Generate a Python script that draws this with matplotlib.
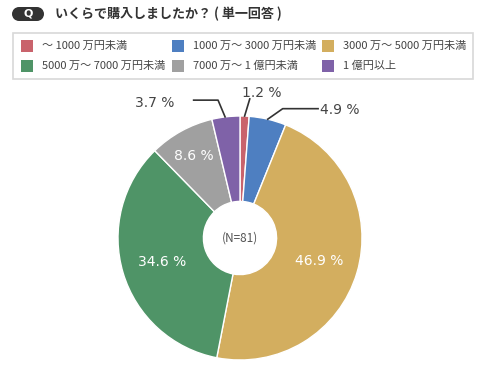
import matplotlib
matplotlib.use("Agg")
import matplotlib.pyplot as plt
from matplotlib.patches import Rectangle, Ellipse
import numpy as np

plt.rcParams['font.family'] = ['Noto Sans CJK JP', 'DejaVu Sans']

categories = ["～ 1000 万円未満", "1000 万～ 3000 万円未満", "3000 万～ 5000 万円未満",
              "5000 万～ 7000 万円未満", "7000 万～ 1 億円未満", "1 億円以上"]
shares = [1.2, 4.9, 46.9, 34.6, 8.6, 3.7]
colors = ["#c9636c", "#4e7fc1", "#d3ae5f", "#4f9467", "#a0a0a0", "#7f62a8"]
title = "いくらで購入しましたか？ ( 単一回答 )"
n_text = "(N=81)"

W, H = 480, 366
fig = plt.figure(figsize=(W / 100, H / 100), dpi=100)

def fx(px):
    return px / W

def fy(py):
    return 1 - py / H

# header pill (capsule: two ends + middle)
for ex in (19, 37):
    fig.patches.append(Ellipse((fx(ex), fy(14)), 14 / W, 14 / H, transform=fig.transFigure,
                               facecolor="#333333", edgecolor="none"))
fig.patches.append(Rectangle((fx(19), fy(21)), fx(18), 14 / H, transform=fig.transFigure,
                             facecolor="#333333", edgecolor="none"))
fig.text(fx(28), fy(14), "Q", color="white", fontsize=8, fontweight="bold", ha="center", va="center",
         family="DejaVu Sans")
fig.text(fx(55), fy(14), title, color="#333333", fontsize=9.4, fontweight="bold", ha="left", va="center")

# legend box
fig.patches.append(Rectangle((fx(13), fy(79)), fx(460), 46 / H, transform=fig.transFigure,
                             facecolor="white", edgecolor="#d8d8d8", linewidth=1.2))
col_x = [21, 172, 322]
row_y = [46, 66]
for i, (lab, c) in enumerate(zip(categories, colors)):
    x0 = col_x[i % 3]
    y0 = row_y[i // 3]
    fig.patches.append(Rectangle((fx(x0), fy(y0 + 6)), fx(12), 12 / H, transform=fig.transFigure,
                                 facecolor=c, edgecolor="none"))
    fig.text(fx(x0 + 21), fy(y0), lab, fontsize=8, color="#444444", ha="left", va="center")

# donut
cx, cy, r = 240, 238, 122
ax = fig.add_axes([fx(cx - r), fy(cy + r), 2 * r / W, 2 * r / H])
wedges, _ = ax.pie(shares, colors=colors, startangle=90, counterclock=False, radius=1,
                   wedgeprops=dict(width=0.7, edgecolor="white", linewidth=1))
ax.set_xlim(-1, 1)
ax.set_ylim(-1, 1)
ax.set_aspect("equal")
ax.axis("off")
for w in wedges:
    w.set_clip_on(False)

ax.text(0, 0, n_text, fontsize=8.5, color="#555555", ha="center", va="center")

cum = np.cumsum([0] + shares[:-1])
mids = 90 - (cum + np.array(shares) / 2) * 3.6
inside_r = {46.9: 0.68, 34.6: 0.67, 8.6: 0.77}
for s, m in zip(shares, mids):
    a = np.deg2rad(m)
    if s in inside_r:
        rr = inside_r[s]
        ax.text(rr * np.cos(a), rr * np.sin(a), f"{s} %", color="white", fontsize=10,
                ha="center", va="center", family="DejaVu Sans")

# outside labels with leader lines
outside = {1.2: ((0.08, 1.14), (0.18, 1.19), None),
           4.9: ((0.35, 1.06), (0.82, 1.05), (0.64, 1.06)),
           3.7: ((-0.18, 1.13), (-0.70, 1.11), (-0.38, 1.13))}
for s, m in zip(shares, mids):
    if s in outside:
        a = np.deg2rad(m)
        p0 = (1.0 * np.cos(a), 1.0 * np.sin(a))
        knee, tpos, tail = outside[s]
        xs = [p0[0], knee[0]] + ([tail[0]] if tail else [])
        ys = [p0[1], knee[1]] + ([tail[1]] if tail else [])
        ax.plot(xs, ys, color="#333333", linewidth=1.2, clip_on=False)
        ax.text(tpos[0], tpos[1], f"{s} %", color="#444444", fontsize=10, ha="center", va="center",
                family="DejaVu Sans", clip_on=False)

fig.savefig("out.png", dpi=100)
